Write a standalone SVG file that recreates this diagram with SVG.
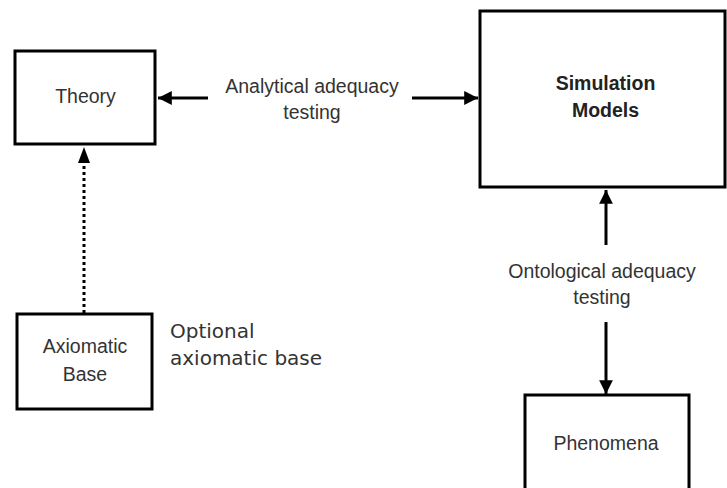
<svg xmlns="http://www.w3.org/2000/svg" width="727" height="488" viewBox="0 0 727 488">
  <style>
    .box { fill: #ffffff; stroke: #000000; stroke-width: 3; }
    .lbl { font-family: "Liberation Sans", Arial, sans-serif; font-size: 19.5px; fill: #333333; text-anchor: middle; }
    .bold { font-weight: bold; fill: #222222; }
    .note { font-family: "DejaVu Sans", "Noto Sans", sans-serif; font-size: 20px; fill: #333333; }
    .line { stroke: #000000; stroke-width: 3; fill: none; }
    .dots { stroke: #000000; stroke-width: 3; fill: none; stroke-dasharray: 3 3; }
  </style>
  <defs>
    <marker id="head" viewBox="0 0 10 10" refX="10" refY="5" markerWidth="5.5" markerHeight="4.6" orient="auto" markerUnits="strokeWidth">
      <path d="M0,0 L10,5 L0,10 Z" fill="#000000"/>
    </marker>
  </defs>
  <rect width="727" height="488" fill="#ffffff"/>

  <g id="connectors">
    <!-- Analytical adequacy testing: both directions -->
    <line class="line" x1="208" y1="98" x2="158" y2="98" marker-end="url(#head)"/>
    <line class="line" x1="412" y1="98" x2="478" y2="98" marker-end="url(#head)"/>
    <!-- Ontological adequacy testing: both directions -->
    <line class="line" x1="606" y1="245" x2="606" y2="190" marker-end="url(#head)"/>
    <line class="line" x1="606" y1="322" x2="606" y2="394" marker-end="url(#head)"/>
    <!-- Optional axiomatic base (dotted) -->
    <line class="dots" x1="84" y1="313" x2="84" y2="162"/>
    <path d="M84,147 L90,163 L78,163 Z" fill="#000000"/>
  </g>

  <g id="theory">
    <rect class="box" x="15" y="51" width="140" height="93"/>
    <text class="lbl" x="85.5" y="103">Theory</text>
  </g>

  <g id="simulation-models">
    <rect class="box" x="480" y="11" width="245" height="176"/>
    <text class="lbl bold" x="605.5" y="90">Simulation</text>
    <text class="lbl bold" x="605.5" y="117">Models</text>
  </g>

  <g id="axiomatic-base">
    <rect class="box" x="17" y="314" width="135" height="95"/>
    <text class="lbl" x="85" y="353">Axiomatic</text>
    <text class="lbl" x="85" y="381">Base</text>
  </g>

  <g id="phenomena">
    <rect class="box" x="525" y="395" width="164" height="96"/>
    <text class="lbl" x="606" y="450">Phenomena</text>
  </g>

  <g id="labels">
    <text class="lbl" x="312" y="93">Analytical adequacy</text>
    <text class="lbl" x="312" y="119">testing</text>
    <text class="lbl" x="602" y="278">Ontological adequacy</text>
    <text class="lbl" x="602" y="304">testing</text>
    <text class="note" x="170" y="338">Optional</text>
    <text class="note" x="170" y="365">axiomatic base</text>
  </g>
</svg>
